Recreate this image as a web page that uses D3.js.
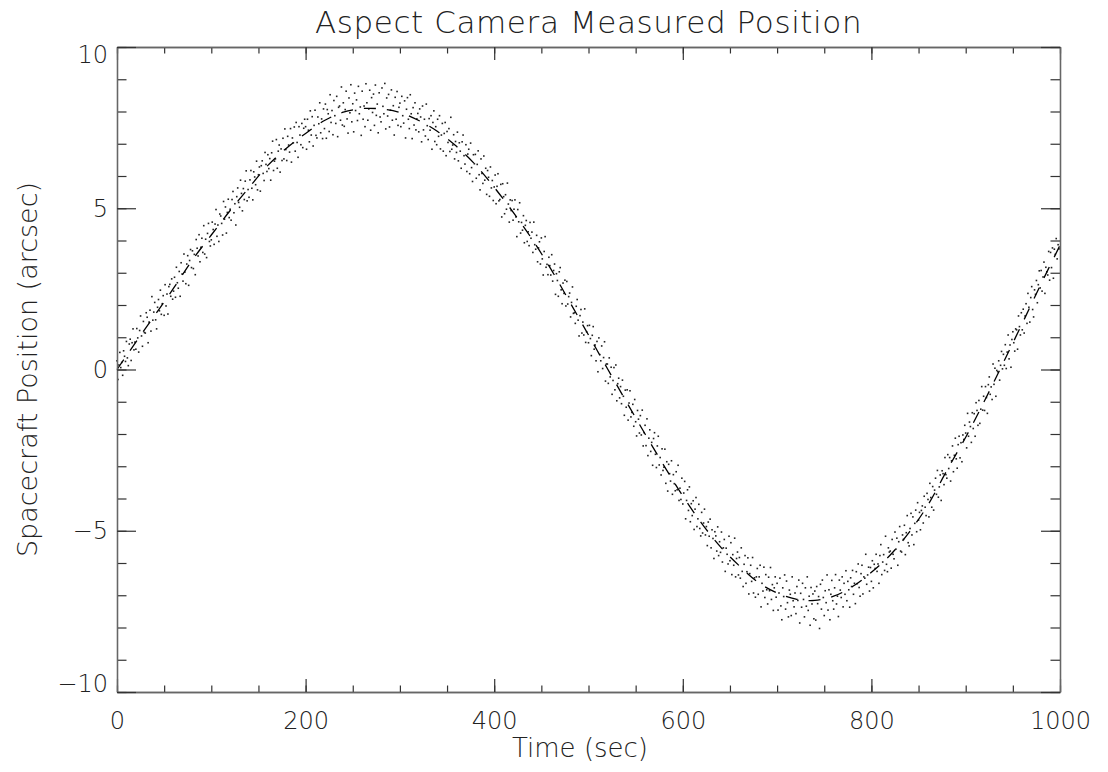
<!DOCTYPE html>
<html>
<head>
<meta charset="utf-8">
<script src="https://cdn.jsdelivr.net/npm/d3@7"></script>
<style>
  body { margin: 0; background: #fff; }
  svg text { font-family: "DejaVu Sans", "Noto Sans", sans-serif; font-weight: 200; }
</style>
</head>
<body>
<svg id="chart"></svg>
<script>
// smoothed position, one value every 20 s
const lineTimes = [0, 20, 40, 60, 80, 100, 120, 140, 160, 180, 200, 220, 240, 260, 280, 300, 320, 340, 360, 380,
  400, 420, 440, 460, 480, 500, 520, 540, 560, 580, 600, 620, 640, 660, 680, 700, 720, 740, 760, 780,
  800, 820, 840, 860, 880, 900, 920, 940, 960, 980, 1000];
const lineValues = [0.00, 0.85, 1.68, 2.52, 3.40, 4.17, 4.93, 5.64, 6.33, 6.87, 7.32, 7.72, 7.98, 8.09, 8.08, 7.97, 7.72, 7.38, 6.92, 6.35,
  5.65, 4.88, 4.05, 3.12, 2.10, 1.07, 0.03, -0.99, -2.00, -2.98, -3.92, -4.77, -5.50, -6.09, -6.60, -6.93, -7.12, -7.16, -7.03, -6.73,
  -6.29, -5.75, -5.05, -4.20, -3.13, -2.10, -0.97, 0.22, 1.43, 2.66, 3.85];

// measured positions, one sample per second starting at t = 0 (20 per row)
const sampleStart = 0;
const sampleStep = 1;
const measured = [
  0.27,-0.31,0.14,0.53,0.06,0.22,-0.18,0.58,0.41,0.25,0.87,0.36,0.12,0.79,0.94,0.28,0.83,1.26,0.61,0.85,
  0.63,1.27,0.98,0.54,1.21,1.66,1.04,0.72,1.49,1.15,1.13,1.76,1.62,0.83,1.47,1.84,1.19,2.26,1.53,1.78,
  2.08,1.54,1.26,1.93,2.17,1.82,2.46,1.71,2.04,2.29,1.68,2.63,1.97,2.34,1.72,2.57,2.64,2.27,2.81,2.18,
  2.43,2.86,2.24,3.17,2.69,2.52,3.04,2.27,3.31,2.96,2.74,3.58,3.02,2.66,3.27,3.53,2.61,3.38,3.72,3.16,
  3.68,3.13,3.57,2.94,4.03,3.76,3.52,4.18,3.34,3.79,4.07,3.63,4.46,3.58,4.04,3.47,4.22,4.53,3.97,3.83,
  4.02,4.57,4.34,3.88,4.51,4.96,4.13,4.48,3.97,4.82,4.76,4.53,4.17,5.21,4.66,5.04,4.23,4.87,5.28,4.71,
  4.97,4.63,5.27,5.52,4.86,5.14,4.48,5.36,5.63,5.18,5.03,5.87,5.46,4.92,5.61,5.27,5.84,6.16,5.23,5.58,
  5.34,5.88,6.17,5.62,5.26,6.13,5.97,5.73,6.46,5.57,6.04,6.28,5.53,6.32,6.47,6.08,5.86,6.73,6.36,6.14,
  6.66,6.23,6.54,5.87,6.72,7.08,6.17,6.46,6.53,7.13,6.24,6.77,6.96,6.12,6.84,6.48,7.17,6.53,7.46,6.82,
  6.48,7.23,6.96,6.74,7.47,6.43,7.18,7.03,7.52,6.77,7.66,7.04,6.58,7.53,7.27,6.97,7.63,6.88,7.48,7.76,
  7.53,6.83,7.76,7.42,7.06,8.02,7.27,7.84,6.93,7.57,8.04,7.26,7.18,7.83,7.62,8.27,7.34,7.77,7.16,8.08,
  7.47,8.23,7.17,8.06,7.93,7.38,8.52,7.66,8.03,7.28,8.34,7.87,7.63,8.47,7.22,8.13,8.17,7.73,8.76,7.58,
  8.27,7.54,8.06,8.63,7.77,7.33,8.42,7.96,8.83,7.68,8.24,7.37,8.57,8.03,8.36,7.72,8.78,7.93,8.14,7.26,
  8.63,7.76,8.17,7.53,8.86,8.27,7.73,8.08,8.66,7.42,8.43,7.97,8.54,7.57,8.82,7.88,8.23,7.34,8.58,7.83,
  7.68,8.73,8.16,7.93,8.87,7.46,8.42,7.86,8.53,7.52,8.04,8.67,7.73,8.18,7.27,8.44,7.76,8.62,7.57,8.13,
  8.26,7.53,8.47,7.87,7.64,8.33,7.18,8.07,8.43,7.76,7.47,8.52,7.93,7.16,8.12,7.58,8.27,7.43,7.77,7.94,
  7.37,8.08,7.83,7.06,8.17,7.43,7.76,7.24,8.23,7.56,7.13,7.78,7.42,7.87,6.83,7.66,8.02,7.07,7.53,6.97,
  7.76,7.23,7.87,6.84,7.27,7.63,6.77,7.32,7.66,6.63,7.38,7.04,7.47,6.76,7.82,6.83,6.96,7.28,6.53,7.07,
  6.73,7.36,6.47,7.03,6.77,6.24,7.06,7.27,6.63,6.37,6.97,6.14,6.68,6.83,6.07,7.02,6.26,5.83,6.66,6.38,
  6.67,5.93,6.36,6.78,6.04,5.57,6.53,6.08,5.77,6.62,5.87,6.24,5.43,6.17,5.96,5.37,6.28,5.63,5.86,5.24,
  5.66,6.03,5.14,5.68,6.07,5.23,5.27,5.74,4.73,5.76,5.36,4.83,5.42,4.97,5.78,5.13,4.57,5.26,4.93,5.24,
  4.63,4.97,5.26,4.73,4.12,4.96,4.58,5.17,4.23,4.56,4.32,4.77,3.93,4.47,4.62,3.97,4.27,3.84,4.56,4.07,
  4.26,3.63,4.57,3.87,3.73,4.16,3.34,3.77,3.96,3.27,4.08,3.43,2.93,3.66,4.12,3.17,3.26,2.94,3.48,3.22,
  2.93,3.56,2.74,3.07,3.27,2.33,2.97,2.76,2.27,3.03,3.16,2.47,2.04,2.68,2.36,2.77,1.97,2.73,2.03,2.26,
  2.37,1.63,2.08,2.56,1.74,1.76,1.43,1.96,2.17,1.53,1.04,1.67,1.86,1.13,1.47,1.07,1.88,0.84,1.17,1.36,
  0.83,1.37,0.96,0.43,1.06,1.33,0.63,0.76,0.27,0.87,-0.07,0.98,0.46,0.27,0.73,0.03,0.37,0.86,-0.36,0.17,
  0.17,-0.43,0.36,-0.23,0.07,-0.77,-0.34,0.06,-0.63,0.14,-0.97,-0.44,-0.27,-0.88,-0.53,-1.06,-0.33,-0.83,-1.42,-0.64,
  -1.17,-0.63,-1.57,-1.04,-0.66,-1.47,-1.33,-1.08,-1.76,-0.93,-1.62,-2.06,-1.27,-1.54,-1.97,-1.43,-2.03,-1.26,-2.37,-1.96,
  -1.73,-2.36,-1.53,-2.67,-2.13,-1.87,-2.54,-2.26,-2.97,-2.14,-1.96,-2.63,-3.04,-2.37,-2.07,-2.96,-2.73,-3.27,-2.46,-3.13,
  -3.03,-2.47,-3.53,-2.86,-3.77,-2.94,-3.23,-3.46,-2.83,-3.87,-3.26,-3.54,-3.76,-3.17,-3.73,-2.97,-4.06,-3.68,-4.03,-3.37,
  -4.17,-3.83,-3.47,-4.63,-4.06,-3.73,-4.37,-3.64,-4.72,-4.16,-4.53,-4.07,-4.96,-4.33,-3.97,-4.87,-4.63,-4.18,-4.93,-5.16,
  -4.43,-5.07,-4.76,-4.33,-5.13,-4.87,-5.46,-4.73,-5.17,-4.64,-5.53,-4.97,-5.24,-5.86,-5.03,-5.16,-5.63,-4.88,-5.77,-5.34,
  -5.67,-5.04,-5.97,-5.53,-5.27,-6.26,-5.54,-5.73,-6.03,-5.17,-5.93,-5.37,-6.36,-5.74,-6.07,-5.23,-6.43,-5.86,-5.66,-6.37,
  -5.83,-6.47,-5.53,-6.26,-6.73,-6.04,-5.77,-6.63,-6.27,-5.84,-6.96,-6.33,-6.07,-6.57,-5.83,-6.93,-6.46,-7.06,-6.43,-6.17,
  -6.97,-6.43,-6.07,-7.36,-6.63,-6.87,-6.13,-7.07,-6.36,-6.83,-7.27,-6.44,-6.86,-6.14,-7.13,-6.67,-7.47,-6.77,-6.43,-7.06,
  -6.63,-7.46,-6.93,-6.47,-7.33,-7.76,-6.77,-7.04,-6.37,-7.43,-6.56,-7.23,-7.67,-6.84,-6.97,-7.63,-6.43,-7.17,-7.36,-6.93,
  -7.57,-6.73,-7.16,-6.53,-7.86,-6.94,-7.37,-6.63,-7.13,-7.67,-6.77,-7.34,-6.43,-7.47,-7.03,-7.93,-6.76,-7.27,-6.96,-7.73,
  -6.87,-7.77,-6.73,-7.26,-7.04,-8.03,-6.66,-7.43,-6.53,-7.07,-7.63,-6.86,-7.23,-6.37,-7.46,-6.83,-7.76,-6.97,-6.54,-7.17,
  -7.43,-6.77,-6.36,-7.27,-7.03,-7.66,-6.53,-6.84,-7.07,-6.43,-7.36,-6.63,-6.97,-6.24,-7.17,-6.57,-6.83,-7.37,-6.46,-6.73,
  -6.23,-6.97,-6.63,-7.26,-6.27,-6.64,-6.03,-6.76,-7.03,-6.33,-6.07,-6.96,-6.43,-6.47,-5.73,-6.66,-6.37,-6.13,-6.87,-6.14,
  -6.57,-5.93,-6.77,-6.04,-6.17,-5.73,-6.26,-6.03,-6.63,-5.77,-5.43,-6.36,-5.97,-5.74,-6.23,-5.17,-6.04,-6.27,-5.53,-5.66,
  -5.63,-6.16,-5.27,-5.73,-5.87,-5.04,-5.57,-5.23,-6.07,-5.34,-4.87,-5.63,-5.66,-5.13,-5.27,-4.83,-5.74,-5.06,-4.53,-5.37,
  -5.47,-4.93,-4.46,-5.13,-4.57,-5.43,-4.77,-4.36,-5.03,-4.13,-4.67,-4.43,-4.97,-4.37,-4.23,-4.76,-3.93,-4.27,-4.53,-3.84,
  -4.03,-4.57,-3.53,-3.97,-4.27,-3.63,-4.36,-3.74,-3.37,-3.87,-3.13,-3.96,-3.64,-3.27,-4.06,-3.14,-3.23,-3.57,-2.73,-3.26,
  -3.37,-2.64,-3.07,-2.73,-3.46,-2.83,-2.37,-3.17,-2.66,-2.13,-2.77,-3.06,-2.33,-2.07,-2.74,-2.27,-2.86,-2.03,-2.17,-1.73,
  -1.97,-2.43,-1.36,-2.07,-1.63,-1.77,-2.26,-1.34,-1.83,-1.37,-2.07,-1.03,-1.27,-1.73,-0.96,-1.67,-1.23,-0.53,-1.26,-0.83,
  -1.27,-0.53,-0.87,-1.36,-0.47,-0.23,-0.77,-0.54,-0.93,0.17,-0.46,0.04,-0.83,-0.03,-0.07,0.27,-0.33,0.13,0.56,0.02,
  0.47,0.13,0.77,0.03,0.54,1.07,0.33,0.76,0.07,0.93,1.17,0.83,0.57,1.26,1.23,0.63,1.66,1.33,1.07,1.76,
  1.23,1.87,1.13,1.66,2.04,1.43,2.36,1.93,1.47,2.23,2.57,1.86,1.63,2.47,2.33,2.76,2.07,2.63,3.06,2.53,
  3.07,2.43,2.87,3.33,2.36,3.17,3.03,2.93,3.66,2.77,3.63,3.16,3.77,2.83,3.73,3.57,4.06,3.43,3.87,3.74
];

const xTicks = [0, 200, 400, 600, 800, 1000];
const yTicks = [-10, -5, 0, 5, 10];
const xMinor = d3.range(0, 1001, 50);
const yMinor = d3.range(-10, 11, 1);

const svgWidth = 1108;
const svgHeight = 772;
const margin = { top: 47, right: 48, bottom: 80, left: 117 };
const width = svgWidth - margin.left - margin.right;
const height = svgHeight - margin.top - margin.bottom;
const textColor = '#222';

const svg = d3.select('#chart')
    .attr('width', svgWidth)
    .attr('height', svgHeight);

const g = svg.append('g')
    .attr('transform', `translate(${margin.left},${margin.top})`);

const x = d3.scaleLinear().domain([0, 1000]).range([0, width]);
const y = d3.scaleLinear().domain([-10, 10]).range([height, 0]);

// data first, axes drawn on top
const points = measured.map((v, i) => ({ t: sampleStart + i * sampleStep, v }));

g.append('g')
    .selectAll('rect')
    .data(points)
    .enter().append('rect')
    .attr('x', d => x(d.t) - 0.8)
    .attr('y', d => y(d.v) - 0.8)
    .attr('width', 1.6)
    .attr('height', 1.6)
    .attr('fill', '#222');

const line = d3.line()
    .x((d, i) => x(lineTimes[i]))
    .y(d => y(d))
    .curve(d3.curveCatmullRom);

g.append('path')
    .datum(lineValues)
    .attr('d', line)
    .attr('fill', 'none')
    .attr('stroke', '#000')
    .attr('stroke-width', 1.3)
    .attr('stroke-dasharray', '12,11');

// IDL style box: ticks point inward on all four sides
const xMajorLen = 13, xMinorLen = 6.5, yMajorLen = 19, yMinorLen = 9.5;

function styleAxis(sel) {
    sel.select('.domain').attr('stroke', '#666').attr('stroke-width', 1.3);
    sel.selectAll('.tick line').attr('stroke', '#333').attr('stroke-width', 1.2);
    sel.selectAll('.tick text').attr('fill', textColor);
}

g.append('g')
    .attr('transform', `translate(0,${height})`)
    .call(d3.axisBottom(x).tickValues(xMinor).tickSize(-xMinorLen).tickFormat('').tickSizeOuter(0))
    .call(styleAxis);

const xAxis = g.append('g')
    .attr('transform', `translate(0,${height})`)
    .call(d3.axisBottom(x).tickValues(xTicks).tickSize(-xMajorLen).tickPadding(20)
        .tickFormat(d3.format('d')).tickSizeOuter(0))
    .call(styleAxis);
xAxis.selectAll('text').style('font-size', '24px');

g.append('g')
    .call(d3.axisTop(x).tickValues(xMinor).tickSize(-xMinorLen).tickFormat('').tickSizeOuter(0))
    .call(styleAxis);
g.append('g')
    .call(d3.axisTop(x).tickValues(xTicks).tickSize(-xMajorLen).tickFormat('').tickSizeOuter(0))
    .call(styleAxis);

g.append('g')
    .call(d3.axisLeft(y).tickValues(yMinor).tickSize(-yMinorLen).tickFormat('').tickSizeOuter(0))
    .call(styleAxis);

const yAxis = g.append('g')
    .call(d3.axisLeft(y).tickValues(yTicks).tickSize(-yMajorLen).tickPadding(9).tickSizeOuter(0))
    .call(styleAxis);
yAxis.selectAll('text')
    .style('font-size', '24px')
    .attr('dy', d => d === 10 ? '0.66em' : d === -10 ? '-0.02em' : '0.34em');

g.append('g')
    .attr('transform', `translate(${width},0)`)
    .call(d3.axisRight(y).tickValues(yMinor).tickSize(-yMinorLen).tickFormat('').tickSizeOuter(0))
    .call(styleAxis);
g.append('g')
    .attr('transform', `translate(${width},0)`)
    .call(d3.axisRight(y).tickValues(yTicks).tickSize(-yMajorLen).tickFormat('').tickSizeOuter(0))
    .call(styleAxis);

svg.append('text')
    .attr('x', margin.left + width / 2)
    .attr('y', 33)
    .attr('text-anchor', 'middle')
    .attr('fill', textColor)
    .style('font-size', '31px')
    .style('letter-spacing', '0.6px')
    .text('Aspect Camera Measured Position');

svg.append('text')
    .attr('x', 580)
    .attr('y', 757)
    .attr('text-anchor', 'middle')
    .attr('fill', textColor)
    .style('font-size', '26px')
    .text('Time (sec)');

svg.append('text')
    .attr('transform', `translate(37,${margin.top + height / 2}) rotate(-90)`)
    .attr('text-anchor', 'middle')
    .attr('fill', textColor)
    .style('font-size', '27px')
    .text('Spacecraft Position (arcsec)');
</script>
</body>
</html>
